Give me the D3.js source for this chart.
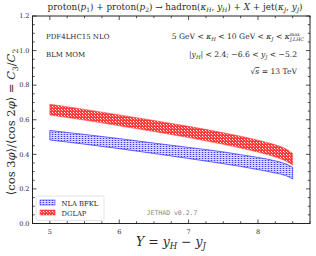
<!DOCTYPE html>
<html>
<head>
<meta charset="utf-8">
<script src="https://cdn.jsdelivr.net/npm/d3@7"></script>
<style>
  body { margin: 0; background: #fff; }
  svg text { font-family: "DejaVu Serif", "Liberation Serif", serif; fill: #2a2a2a; }
</style>
</head>
<body>
<svg width="316" height="256"></svg>
<script>
(function () {
// rapidity interval Y and band edges for each series
const Y_VALUES = [5, 5.5, 6, 6.5, 7, 7.5, 7.75, 8, 8.25, 8.4, 8.5];
const DGLAP_HIGH = [0.690, 0.660, 0.628, 0.596, 0.562, 0.525, 0.505, 0.482, 0.455, 0.432, 0.405];
const DGLAP_LOW  = [0.628, 0.598, 0.565, 0.532, 0.497, 0.458, 0.437, 0.413, 0.385, 0.362, 0.338];
const BFKL_HIGH  = [0.538, 0.515, 0.491, 0.465, 0.440, 0.414, 0.398, 0.382, 0.362, 0.345, 0.325];
const BFKL_LOW   = [0.483, 0.459, 0.433, 0.405, 0.376, 0.346, 0.330, 0.312, 0.292, 0.277, 0.258];
const X_TICKS = [5, 6, 7, 8];
const Y_TICKS = [0, 0.2, 0.4, 0.6, 0.8, 1.0, 1.2];
const LEGEND = ["NLA BFKL", "DGLAP"];

const pL = 32.5, pR = 310, pT = 16, pB = 223.5;
const svg = d3.select("svg");

const x = d3.scaleLinear().domain([4.75, 8.75]).range([pL, pR]);
const y = d3.scaleLinear().domain([0, 1.2]).range([pB, pT]);

// hatch patterns
const defs = svg.append("defs");
const red = defs.append("pattern").attr("id", "redHatch")
  .attr("patternUnits", "userSpaceOnUse").attr("width", 3).attr("height", 3);
red.append("rect").attr("width", 3).attr("height", 3).attr("fill", "#ff3a3a");
red.append("rect").attr("x", 1).attr("y", 1).attr("width", 1).attr("height", 1).attr("fill", "#ffffff");
red.append("rect").attr("x", 2).attr("y", 2).attr("width", 1).attr("height", 1).attr("fill", "#ffb0b0");
const blue = defs.append("pattern").attr("id", "blueHatch")
  .attr("patternUnits", "userSpaceOnUse").attr("width", 3).attr("height", 2);
blue.append("rect").attr("width", 3).attr("height", 2).attr("fill", "#b4b4ff");
blue.append("rect").attr("x", 1).attr("y", 0).attr("width", 1).attr("height", 1).attr("fill", "#3a3af0");
blue.append("rect").attr("x", 0).attr("y", 1).attr("width", 3).attr("height", 1).attr("fill", "#dcdcff");

const area = (hi, lo) => d3.area()
  .x((d, i) => x(Y_VALUES[i]))
  .y0((d, i) => y(lo[i]))
  .y1((d, i) => y(hi[i]))
  .curve(d3.curveMonotoneX)(Y_VALUES);

svg.append("path").attr("d", area(BFKL_HIGH, BFKL_LOW))
  .attr("fill", "url(#blueHatch)").attr("stroke", "#4040ff").attr("stroke-width", 0.8);
svg.append("path").attr("d", area(DGLAP_HIGH, DGLAP_LOW))
  .attr("fill", "url(#redHatch)").attr("stroke", "#ff4040").attr("stroke-width", 0.6);

// frame with inward ticks on all sides
svg.append("rect").attr("x", pL).attr("y", pT)
  .attr("width", pR - pL).attr("height", pB - pT)
  .attr("fill", "none").attr("stroke", "#222").attr("stroke-width", 1);

const xMinor = d3.range(4.75, 8.76, 0.25);
const yMinor = d3.range(0, 1.2001, 0.05);
const tk = svg.append("g").attr("stroke", "#222").attr("stroke-width", 0.8);
xMinor.forEach(v => {
  const major = Math.abs(v - Math.round(v)) < 1e-6;
  const len = major ? 4 : 2.2;
  tk.append("line").attr("x1", x(v)).attr("x2", x(v)).attr("y1", pB).attr("y2", pB - len);
  tk.append("line").attr("x1", x(v)).attr("x2", x(v)).attr("y1", pT).attr("y2", pT + len);
});
yMinor.forEach(v => {
  const major = Math.abs(v * 5 - Math.round(v * 5)) < 1e-6;
  const len = major ? 4 : 2.2;
  tk.append("line").attr("x1", pL).attr("x2", pL + len).attr("y1", y(v)).attr("y2", y(v));
  tk.append("line").attr("x1", pR).attr("x2", pR - len).attr("y1", y(v)).attr("y2", y(v));
});

svg.append("g").selectAll("text").data(X_TICKS).join("text")
  .attr("x", d => x(d)).attr("y", pB + 10).attr("text-anchor", "middle")
  .attr("font-size", 6.5).text(d => d);
svg.append("g").selectAll("text").data(Y_TICKS).join("text")
  .attr("x", pL - 3).attr("y", d => y(d) + 2.3).attr("text-anchor", "end")
  .attr("font-size", 6.5).text(d => d.toFixed(1));

// title
const title = svg.append("text").attr("x", 175).attr("y", 10).attr("text-anchor", "middle").attr("font-size", 8.8);
title.html('proton(<tspan font-style="italic">p</tspan><tspan font-size="6" dy="1.5">1</tspan><tspan dy="-1.5">) + proton(</tspan><tspan font-style="italic">p</tspan><tspan font-size="6" dy="1.5">2</tspan><tspan dy="-1.5">) → hadron(</tspan><tspan font-style="italic">κ</tspan><tspan font-size="6" font-style="italic" dy="1.5">H</tspan><tspan dy="-1.5">, </tspan><tspan font-style="italic">y</tspan><tspan font-size="6" font-style="italic" dy="1.5">H</tspan><tspan dy="-1.5">) + </tspan><tspan font-style="italic">X</tspan> + jet(<tspan font-style="italic">κ</tspan><tspan font-size="6" font-style="italic" dy="1.5">J</tspan><tspan dy="-1.5">, </tspan><tspan font-style="italic">y</tspan><tspan font-size="6" font-style="italic" dy="1.5">J</tspan><tspan dy="-1.5">)</tspan>');

// in-plot labels
svg.append("text").attr("x", 46).attr("y", 39).attr("font-size", 7).text("PDF4LHC15 NLO");
svg.append("text").attr("x", 46).attr("y", 57).attr("font-size", 7).text("BLM MOM");

svg.append("text").attr("x", 304).attr("y", 39).attr("text-anchor", "end").attr("font-size", 7.6)
  .html('5 GeV &lt; <tspan font-style="italic">κ</tspan><tspan font-size="5.3" font-style="italic" dy="1.5">H</tspan><tspan dy="-1.5"> &lt; 10 GeV &lt; </tspan><tspan font-style="italic">κ</tspan><tspan font-size="5.3" font-style="italic" dy="1.5">J</tspan><tspan dy="-1.5"> &lt; </tspan><tspan font-style="italic">κ</tspan><tspan font-size="4.8" dy="-3">max</tspan><tspan font-size="4.8" font-style="italic" dx="-10" dy="5">J,LHC</tspan>');
svg.append("text").attr("x", 297).attr("y", 57).attr("text-anchor", "end").attr("font-size", 7.6)
  .html('|<tspan font-style="italic">y</tspan><tspan font-size="5.3" font-style="italic" dy="1.5">H</tspan><tspan dy="-1.5">| &lt; 2.4;  −6.6 &lt; </tspan><tspan font-style="italic">y</tspan><tspan font-size="5.3" font-style="italic" dy="1.5">J</tspan><tspan dy="-1.5"> &lt; −5.2</tspan>');
svg.append("text").attr("x", 297).attr("y", 74).attr("text-anchor", "end").attr("font-size", 7.6)
  .html('√<tspan font-style="italic" text-decoration="overline">s</tspan> = 13 TeV');

svg.append("text").attr("x", 172).attr("y", 215).attr("text-anchor", "middle")
  .attr("font-size", 6.5).style("font-family", "'DejaVu Sans Mono', monospace").style("fill", "#888")
  .text("JETHAD v0.2.7");

// legend
const lg = svg.append("g");
lg.append("rect").attr("x", 36).attr("y", 196).attr("width", 68).attr("height", 24.5).attr("rx", 1.5)
  .attr("fill", "#fff").attr("stroke", "#ddd").attr("stroke-width", 0.8);
const fills = ["url(#blueHatch)", "url(#redHatch)"];
const strokes = ["#4040ff", "#ff4040"];
LEGEND.forEach((name, i) => {
  lg.append("rect").attr("x", 40).attr("y", 200 + i * 10).attr("width", 15).attr("height", 5)
    .attr("fill", fills[i]).attr("stroke", strokes[i]).attr("stroke-width", 0.6);
  lg.append("text").attr("x", 61.5).attr("y", 205.5 + i * 10).attr("font-size", 6.8).text(name);
});

// axis titles
svg.append("text").attr("x", 171).attr("y", 246).attr("text-anchor", "middle").attr("font-size", 12.5)
  .html('<tspan font-style="italic">Y</tspan> = <tspan font-style="italic">y</tspan><tspan font-size="8.5" font-style="italic" dy="3">H</tspan><tspan dy="-3"> − </tspan><tspan font-style="italic">y</tspan><tspan font-size="8.5" font-style="italic" dy="3">J</tspan>');
svg.append("text").attr("transform", "translate(15,122) rotate(-90)").attr("text-anchor", "middle").attr("font-size", 11.5)
  .html('⟨cos 3<tspan font-style="italic">φ</tspan>⟩/⟨cos 2<tspan font-style="italic">φ</tspan>⟩ = <tspan font-style="italic">C</tspan><tspan font-size="7.5" dy="2.5">3</tspan><tspan dy="-2.5">/</tspan><tspan font-style="italic">C</tspan><tspan font-size="7.5" dy="2.5">2</tspan>');
})();
</script>
</body>
</html>
